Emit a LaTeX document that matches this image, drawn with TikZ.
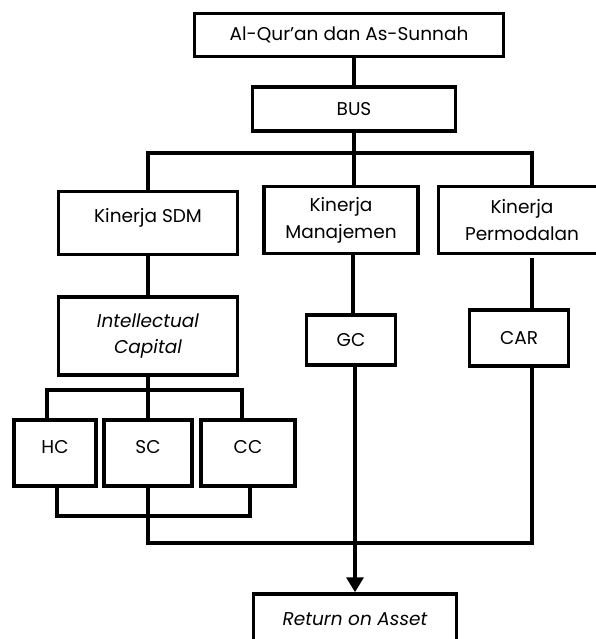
\documentclass[tikz,border=0pt]{standalone}
\usepackage{fontspec}
\setmainfont{Poppins}
\usetikzlibrary{arrows.meta,positioning,calc}
\begin{document}
\begin{tikzpicture}[x=1pt,y=-1pt,line width=3.5pt,
  box/.style={draw,rectangle,inner sep=0pt,align=center,font=\fontsize{18.5}{27}\selectfont},
  it/.style={box,font=\fontsize{18.5}{26}\selectfont\itshape}]
   \useasboundingbox (0,0) rectangle (596,639);
   \node [box,minimum width=309pt,minimum height=43pt] (quran) at (349,35) {Al-Qur’an dan As-Sunnah};
   \node [box,minimum width=203pt,minimum height=44pt] (bus) at (354,109) {BUS};
   \node [box,minimum width=179pt,minimum height=63pt,text depth=15pt] (sdm) at (148,223) {Kinerja SDM};
   \node [box,minimum width=154pt,minimum height=67pt] (man) at (341,220) {Kinerja\\Manajemen};
   \node [box,minimum width=167pt,minimum height=67pt] (perm) at (522,220) {Kinerja\\Permodalan};
   \node [it,minimum width=179pt,minimum height=78pt] (ic) at (148,336) {Intellectual\\Capital};
   \node [box,minimum width=89pt,minimum height=50pt] (gc) at (351,340) {GC};
   \node [box,minimum width=99pt,minimum height=56pt] (car) at (519,338) {CAR};
   \node [box,minimum width=82pt,minimum height=66pt,text depth=13pt] (hc) at (55,453) {HC};
   \node [box,minimum width=88pt,minimum height=66pt,text depth=13pt] (sc) at (148,453) {SC};
   \node [box,minimum width=94pt,minimum height=66pt,text depth=13pt] (cc) at (248,453) {CC};
   \node [it,minimum width=203pt,minimum height=50pt] (roa) at (355,619) {Return on Asset};
   \coordinate (split) at (354,153);
   \coordinate (icsplit) at (148,390);
   \coordinate (base) at (532,543);
   \draw (bus.north) -- (bus.north |- quran.south);
   \draw (bus.south) -- (split);
   \draw (sdm.north) |- (split) -| ([xshift=10pt]perm.north);
   \draw (split) -- (split |- man.north);
   \draw (sdm) -- (ic);
   \draw (ic.south) -- (icsplit);
   \draw ([xshift=-8pt]hc.north) |- (icsplit) -| ([xshift=-6pt]cc.north);
   \draw (icsplit) -- (icsplit |- sc.north);
   \draw ([xshift=2pt]hc.south) -- ++(0,28) -| ([xshift=2pt]cc.south);
   \draw (sc.south) |- (base) -- ([xshift=13pt]car.south);
   \draw ([xshift=10pt,yshift=-3pt]perm.south) -- ([xshift=13pt]car.north);
   \draw ([xshift=2pt]gc.north) -- ([xshift=2pt]gc.north |- man.south);
   \draw [-{Triangle[width=17pt,length=15pt]}] ([xshift=4pt]gc.south) -- (roa.north);
\end{tikzpicture}
\end{document}
